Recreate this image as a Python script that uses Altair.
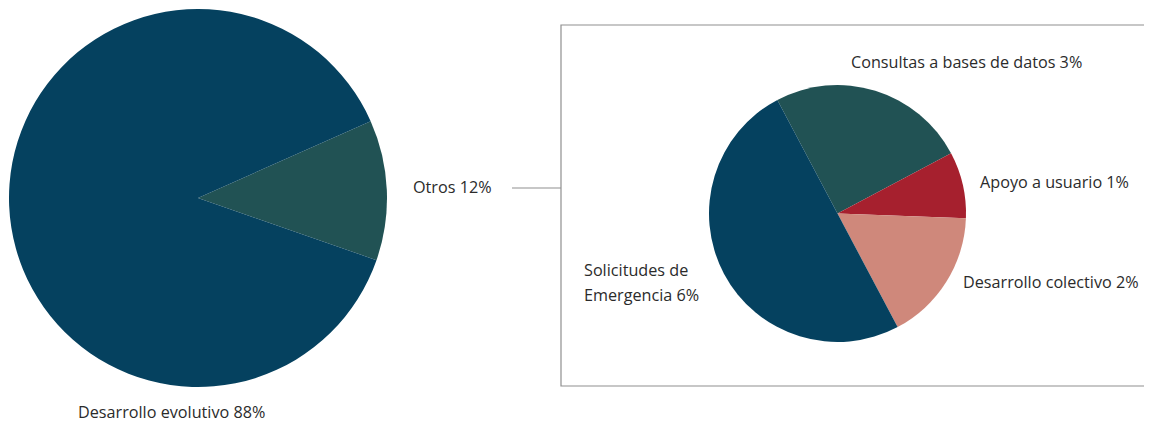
import math
import altair as alt
import pandas as pd

# ---- data ----
main_labels = ["Otros", "Desarrollo evolutivo"]
main_values = [12, 88]
main_colors = ["#215254", "#05415F"]

sub_labels = ["Consultas a bases de datos", "Apoyo a usuario", "Desarrollo colectivo", "Solicitudes de Emergencia"]
sub_values = [3, 1, 2, 6]
sub_colors = ["#215254", "#A6202E", "#CF887B", "#05415F"]

label_texts = {
    "otros": "Otros 12%",
    "evolutivo": "Desarrollo evolutivo 88%",
    "consultas": "Consultas a bases de datos 3%",
    "apoyo": "Apoyo a usuario 1%",
    "colectivo": "Desarrollo colectivo 2%",
    "solicitudes1": "Solicitudes de",
    "solicitudes2": "Emergencia 6%",
}

main_df = pd.DataFrame({"cat": main_labels, "val": main_values, "ord": list(range(len(main_labels)))})
sub_df = pd.DataFrame({"cat": sub_labels, "val": sub_values, "ord": list(range(len(sub_labels)))})

FONT = "Open Sans"
FS = 16.2
TXT = "#2b2b2b"

start_main = math.radians(66.0)
start_sub = math.radians(332.1)

main_pie = alt.Chart(main_df).mark_arc(outerRadius=189).encode(
    theta=alt.Theta("val:Q", stack=True,
                    scale=alt.Scale(range=[start_main, start_main + 2 * math.pi])),
    color=alt.Color("cat:N", scale=alt.Scale(domain=main_labels, range=main_colors), legend=None),
    order=alt.Order("ord:Q"),
    x=alt.value(190),
    y=alt.value(190),
)

sub_pie = alt.Chart(sub_df).mark_arc(outerRadius=128.5).encode(
    theta=alt.Theta("val:Q", stack=True,
                    scale=alt.Scale(range=[start_sub, start_sub + 2 * math.pi])),
    color=alt.Color("cat:N", scale=alt.Scale(domain=sub_labels, range=sub_colors), legend=None),
    order=alt.Order("ord:Q"),
    x=alt.value(829.5),
    y=alt.value(205.5),
)

dummy = pd.DataFrame({"a": [0]})

box = alt.Chart(dummy).mark_rect(fillOpacity=0, stroke="#8f8f8f", strokeWidth=1.2).encode(
    x=alt.value(553), x2=alt.value(1160), y=alt.value(17), y2=alt.value(378)
)

connector = alt.Chart(dummy).mark_rule(color="#8f8f8f", strokeWidth=1).encode(
    x=alt.value(504), x2=alt.value(553), y=alt.value(180)
)


def label(key, x, y):
    df = pd.DataFrame({"t": [label_texts[key]]})
    return alt.Chart(df).mark_text(
        font=FONT, fontSize=FS, color=TXT, align="left", baseline="middle"
    ).encode(x=alt.value(x), y=alt.value(y), text="t:N")


labels = [
    label("otros", 405, 180),
    label("evolutivo", 70, 405),
    label("consultas", 843, 55),
    label("apoyo", 972, 175),
    label("colectivo", 955, 275),
    label("solicitudes1", 576, 263),
    label("solicitudes2", 576, 288),
]

chart = alt.layer(box, connector, main_pie, sub_pie, *labels).resolve_scale(
    theta="independent", color="independent"
).properties(
    width=1136, height=414, padding=0,
    autosize=alt.AutoSizeParams(type="fit", contains="padding"),
).configure_view(stroke=None)

chart.save("out.html", embed_options={"renderer": "svg", "actions": False})
